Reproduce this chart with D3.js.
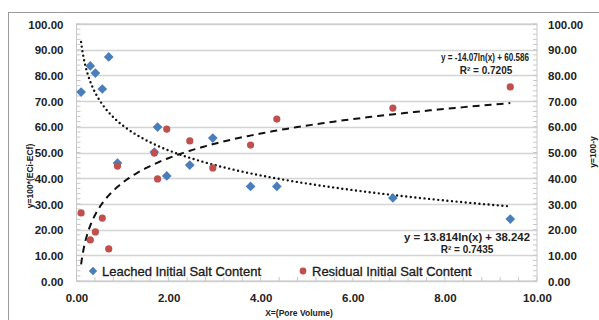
<!DOCTYPE html>
<html>
<head>
<meta charset="utf-8">
<script src="https://cdn.jsdelivr.net/npm/d3@7"></script>
<style>
  body { margin: 0; background: #fff; }
  svg text { font-family: "Liberation Sans", Arial, sans-serif; font-weight: bold; fill: #222; }
</style>
</head>
<body>
<svg></svg>
<script>
var WIDTH = 599,
	HEIGHT = 320,
	MARGIN = {top: 24, right: 62, bottom: 39, left: 76.5};

// Pore volume (shared by both series)
var poreVolume = [0.1, 0.3, 0.41, 0.56, 0.7, 0.89, 1.69, 1.76, 1.96, 2.46, 2.96, 3.78, 4.35, 6.87, 9.42];
// Leached initial salt content (blue diamonds)
var leached = [73.5, 83.7, 80.9, 74.7, 87.2, 45.9, 50.2, 59.9, 40.9, 45.1, 55.6, 36.8, 36.8, 32.3, 24.1];
// Residual initial salt content (red circles)
var residual = [26.5, 16.0, 19.1, 24.5, 12.5, 44.7, 49.8, 39.7, 59.1, 54.5, 44.0, 52.9, 63.0, 67.3, 75.5];

// Log trend lines as printed on the chart: [slope, intercept, R²]
var leachedFit = [-14.07, 60.586, 0.7205];
var residualFit = [13.814, 38.242, 0.7435];

var xTicks = [0, 2, 4, 6, 8, 10];
var yTicks = [0, 10, 20, 30, 40, 50, 60, 70, 80, 90, 100];

var BLUE = "#4a7ebb", RED = "#c0504d", GRID = "#d4d4d4";

var svg = d3.select("svg").attr("width", WIDTH).attr("height", HEIGHT);

var x = d3.scaleLinear().domain([0, 10]).range([MARGIN.left, WIDTH - MARGIN.right]);
var y = d3.scaleLinear().domain([0, 100]).range([HEIGHT - MARGIN.bottom, MARGIN.top]);

// Outer chart frame
svg.append("rect")
	.attr("x", 8.5).attr("y", 12.5)
	.attr("width", 620).attr("height", 340)
	.attr("fill", "none").attr("stroke", "#9a9a9a");

// Gridlines
svg.append("g").selectAll("line")
	.data(yTicks)
  .enter().append("line")
	.attr("x1", x(0)).attr("x2", x(10))
	.attr("y1", function(d) { return Math.round(y(d)) + 0.5; })
	.attr("y2", function(d) { return Math.round(y(d)) + 0.5; })
	.attr("stroke", GRID).attr("stroke-width", 1.5);

// Plot border
svg.append("rect")
	.attr("x", x(0)).attr("y", y(100))
	.attr("width", x(10) - x(0)).attr("height", y(0) - y(100))
	.attr("fill", "none").attr("stroke", "#c8c8c8");

// Minor ticks (inside)
var minorY = d3.range(0, 100.1, 2);
svg.append("g").selectAll("line").data(minorY).enter().append("line")
	.attr("x1", x(0)).attr("x2", x(0) + 4)
	.attr("y1", function(d) { return y(d); }).attr("y2", function(d) { return y(d); })
	.attr("stroke", "#c8c8c8");
svg.append("g").selectAll("line").data(minorY).enter().append("line")
	.attr("x1", x(10) - 4).attr("x2", x(10))
	.attr("y1", function(d) { return y(d); }).attr("y2", function(d) { return y(d); })
	.attr("stroke", "#c8c8c8");
svg.append("g").selectAll("line").data(d3.range(0, 10.01, 0.4)).enter().append("line")
	.attr("x1", function(d) { return x(d); }).attr("x2", function(d) { return x(d); })
	.attr("y1", y(0) - 4).attr("y2", y(0))
	.attr("stroke", "#c8c8c8");

// Axes (labels only)
var fmt = d3.format(".2f");
var leftAxis = svg.append("g")
	.attr("transform", "translate(" + (x(0) - 13) + ",0)")
	.call(d3.axisLeft(y).tickValues(yTicks).tickFormat(fmt).tickSize(0));
var rightAxis = svg.append("g")
	.attr("transform", "translate(" + (x(10) + 11) + ",0)")
	.call(d3.axisRight(y).tickValues(yTicks).tickFormat(fmt).tickSize(0));
var bottomAxis = svg.append("g")
	.attr("transform", "translate(0," + (y(0) + 10) + ")")
	.call(d3.axisBottom(x).tickValues(xTicks).tickFormat(fmt).tickSize(0));
[leftAxis, rightAxis, bottomAxis].forEach(function(a) {
	a.select(".domain").remove();
	a.selectAll("text").style("font-size", "11.5px").style("font-family", null);
});
leftAxis.selectAll("text").attr("x", 0).attr("dy", "0.36em");
rightAxis.selectAll("text").attr("x", 0).attr("dy", "0.36em");
bottomAxis.selectAll("text").attr("dy", "0.71em");

// Axis titles
svg.append("text")
	.attr("transform", "translate(33," + 176 + ") rotate(-90)")
	.attr("text-anchor", "middle")
	.style("font-size", "8.5px")
	.text("y=100*(ECi-ECf)");
svg.append("text")
	.attr("transform", "translate(596," + 152 + ") rotate(-90)")
	.attr("text-anchor", "middle")
	.style("font-size", "8.5px")
	.text("y=100-y");
svg.append("text")
	.attr("x", 299).attr("y", 316)
	.attr("text-anchor", "middle")
	.style("font-size", "8.5px")
	.text("X=(Pore Volume)");

// Trend lines
function fitPoints(fit, xs) {
	var lo = d3.min(xs), hi = d3.max(xs);
	return d3.range(0, 201).map(function(i) {
		var v = lo * Math.pow(hi / lo, i / 200);
		return [v, fit[0] * Math.log(v) + fit[1]];
	});
}
var line = d3.line()
	.x(function(d) { return x(d[0]); })
	.y(function(d) { return y(d[1]); });

svg.append("path")
	.datum(fitPoints(residualFit, poreVolume))
	.attr("d", line)
	.attr("fill", "none").attr("stroke", "#111")
	.attr("stroke-width", 2).attr("stroke-dasharray", "7,5");

svg.append("path")
	.datum(fitPoints(leachedFit, poreVolume))
	.attr("d", line)
	.attr("fill", "none").attr("stroke", "#111")
	.attr("stroke-width", 2.4).attr("stroke-linecap", "round")
	.attr("stroke-dasharray", "0,4.6");

// Markers
var diamond = d3.symbol().type(d3.symbolDiamond2).size(60);
svg.append("g").selectAll("path")
	.data(d3.zip(poreVolume, leached))
  .enter().append("path")
	.attr("d", diamond)
	.attr("transform", function(d) { return "translate(" + x(d[0]) + "," + y(d[1]) + ")"; })
	.attr("fill", BLUE);

svg.append("g").selectAll("circle")
	.data(d3.zip(poreVolume, residual))
  .enter().append("circle")
	.attr("cx", function(d) { return x(d[0]); })
	.attr("cy", function(d) { return y(d[1]); })
	.attr("r", 3.6)
	.attr("fill", RED);

// Trend line equations
function eqText(fit) {
	var b = fit[0] < 0 ? fit[0].toString() : fit[0].toString();
	return "y = " + b + "ln(x) + " + fit[1];
}
svg.append("text").attr("x", 485).attr("y", 61).attr("text-anchor", "middle")
	.style("font-size", "10px").attr("textLength", 88).attr("lengthAdjust", "spacingAndGlyphs")
	.text(eqText(leachedFit));
svg.append("text").attr("x", 486).attr("y", 74).attr("text-anchor", "middle")
	.style("font-size", "10px")
	.text("R² = " + leachedFit[2]);
svg.append("text").attr("x", 467).attr("y", 241).attr("text-anchor", "middle")
	.style("font-size", "10px").attr("textLength", 126).attr("lengthAdjust", "spacingAndGlyphs")
	.text(eqText(residualFit));
svg.append("text").attr("x", 467).attr("y", 253).attr("text-anchor", "middle")
	.style("font-size", "10px")
	.text("R² = " + residualFit[2]);

// Legend
var legend = [
	{label: "Leached Initial Salt Content", color: BLUE, sym: "diamond", x: 93},
	{label: "Residual Initial Salt Content", color: RED, sym: "circle", x: 303}
];
var lg = svg.append("g").selectAll("g").data(legend).enter().append("g")
	.attr("transform", function(d) { return "translate(" + d.x + ",271)"; });
lg.append("path")
	.attr("d", function(d) {
		return d.sym === "diamond" ? d3.symbol().type(d3.symbolDiamond2).size(45)()
			: d3.symbol().type(d3.symbolCircle).size(36)();
	})
	.attr("fill", function(d) { return d.color; });
lg.append("text")
	.attr("x", 9).attr("y", 5)
	.style("font-size", "13px").style("font-weight", "normal").style("fill", "#1a1a1a")
	.attr("stroke", "#1a1a1a").attr("stroke-width", 0.3)
	.text(function(d) { return d.label; });
</script>
</body>
</html>
